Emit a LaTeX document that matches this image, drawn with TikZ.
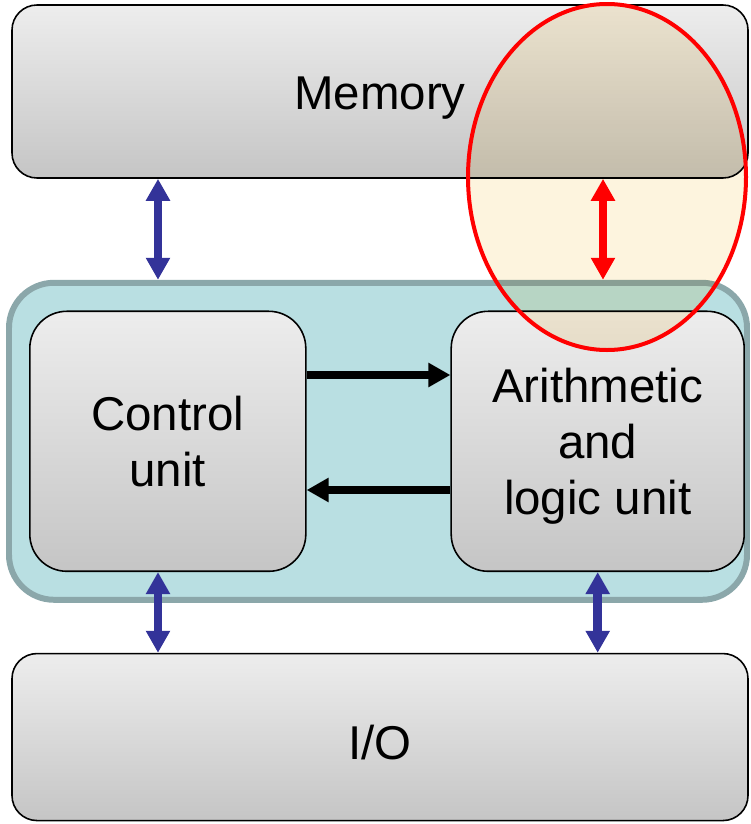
\documentclass[tikz,border=0pt]{standalone}
\usepackage{fontspec}
\setmainfont{Liberation Sans}
\usepackage{tikz}
\usetikzlibrary{arrows.meta,positioning,shapes.geometric}
\definecolor{busblue}{RGB}{51,51,153}
\definecolor{cputeal}{RGB}{185,223,226}
\definecolor{cpuedge}{RGB}{139,167,170}
\definecolor{boxtop}{RGB}{237,237,237}
\definecolor{boxbot}{RGB}{197,197,197}
\definecolor{cream}{RGB}{253,244,222}
\tikzstyle{block} = [rectangle, rounded corners=0.5cm, draw=black, line width=0.9pt, top color=boxtop, bottom color=boxbot, align=center, text=black, font=\fontsize{27}{32}\selectfont]
\tikzstyle{wide} = [block, text height=0.9cm, minimum width=14.72cm]
\tikzstyle{unit} = [block, rounded corners=0.74cm, minimum height=5.2cm, text depth=0pt]
\tikzstyle{cpubox} = [rectangle, rounded corners=0.9cm, draw=cpuedge, line width=3.4pt, fill=cputeal]
\tikzstyle{bus} = [draw=busblue, line width=0.17cm, {Triangle[width=0.46cm,length=0.44cm]}-{Triangle[width=0.46cm,length=0.44cm]}]
\tikzstyle{redbus} = [bus, draw=red]
\tikzstyle{flow} = [draw=black, line width=0.16cm, -{Triangle[width=0.46cm,length=0.44cm]}]
\tikzstyle{focus} = [ellipse, draw=none, fill=cream, minimum width=5.56cm, minimum height=6.92cm, inner sep=0pt]
\tikzstyle{ring} = [draw=red, line width=0.08cm]

\begin{document}
\begin{tikzpicture}[auto]
\useasboundingbox (0,0) rectangle (15.02,-16.48);

% Memory and CPU =============================
\node[wide, minimum height=3.46cm] (mem) at (7.60,-1.83) {Memory};
\node[cpubox, below=2.02cm of mem, minimum width=14.76cm, minimum height=6.34cm, xshift=-0.04cm] (cpu) {};

\node[unit, minimum width=5.52cm, anchor=west] (cu) at ([xshift=0.46cm]cpu.west) {Control\\unit};
\node[unit, minimum width=5.86cm, anchor=east] (alu) at ([xshift=-0.10cm]cpu.east) {Arithmetic\\and\\logic unit};

% I/O =============================
\node[wide, below=1.0cm of cpu, minimum height=3.34cm, xshift=0.04cm] (io) {I/O};

% bus positions
\coordinate (lbus) at (3.16,0);
\coordinate (rbus) at (12.06,0);
\coordinate (upper) at (0,-7.50);
\coordinate (lower) at (0,-9.80);

% edges
\path[bus] (mem.south -| lbus) -- (cpu.north -| lbus);
\path[bus] (cu.south -| lbus) -- (io.north -| lbus);
\path[bus] (alu.south) -- (io.north -| alu.south);
\path[flow] (cu.east |- upper) -- (alu.west |- upper);
\path[flow] (alu.west |- lower) -- (cu.east |- lower);

%% highlight
\begin{scope}[blend mode=multiply]
\node[focus] (hl) at (12.14,-3.54) {};
\end{scope}
\path[redbus] (mem.south -| rbus) -- (cpu.north -| rbus);
\draw[ring] (hl.center) ellipse [x radius=2.78cm, y radius=3.46cm];

\end{tikzpicture}
\end{document}
